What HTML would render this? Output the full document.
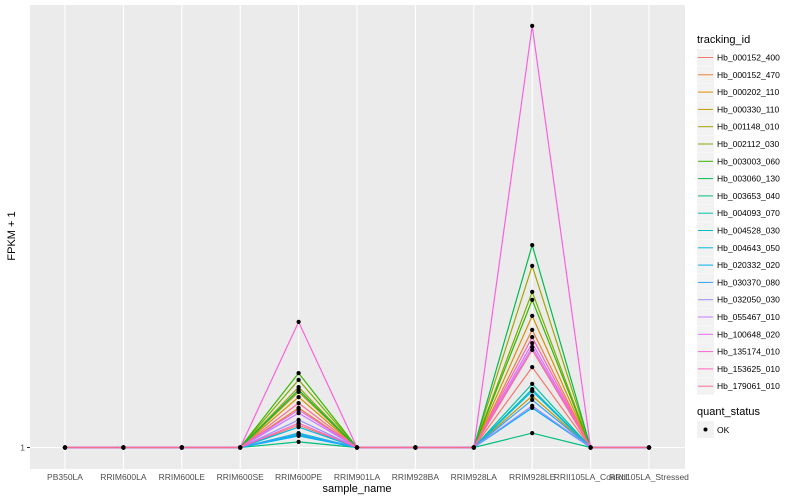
<!DOCTYPE html>
<html><head><meta charset="utf-8"><style>
body{margin:0;background:#fff;}
svg{display:block;font-family:"Liberation Sans",sans-serif;}
</style></head><body>
<svg id="chart" width="800" height="500">
<rect x="30" y="5" width="655" height="464" fill="#EBEBEB"/>
<g id="grid"></g><g id="lines"></g><g id="points"></g><g id="axes"></g><g id="legend"></g>
<text x="15" y="236" font-size="11" text-anchor="middle" transform="rotate(-90 15 236)">FPKM + 1</text>
<text x="357" y="492" font-size="11" text-anchor="middle">sample_name</text>
</svg>
<script>
const categories=["PB350LA","RRIM600LA","RRIM600LE","RRIM600SE","RRIM600PE","RRIM901LA","RRIM928BA","RRIM928LA","RRIM928LE","RRII105LA_Control","RRII105LA_Stressed"];
const seriesNames=["Hb_000152_400","Hb_000152_470","Hb_000202_110","Hb_000330_110","Hb_001148_010","Hb_002112_030","Hb_003003_060","Hb_003060_130","Hb_003653_040","Hb_004093_070","Hb_004528_030","Hb_004643_050","Hb_020332_020","Hb_030370_080","Hb_032050_030","Hb_055467_010","Hb_100648_020","Hb_135174_010","Hb_153625_010","Hb_179061_010"];
const colors=["#F8766D","#EA8331","#D89000","#C09B00","#A3A500","#7CAE00","#39B600","#00BB4E","#00BF7D","#00C1A3","#00BFC4","#00BAE0","#00B0F6","#35A2FF","#9590FF","#C77CFF","#E76BF3","#FA62DB","#FF62BC","#FF6C91"];
const peakPE=[6.6,10.9,13.6,14.9,16.1,17.9,19.6,15.4,2.4,4.1,4.6,6.1,3.9,4.4,7.9,9.6,10.4,32.4,7.1,12.1];
const peakLE=[21.1,30.4,33.9,13.9,46.4,39.9,37.9,51.6,4.6,16.9,15.6,15.1,10.9,12.9,11.4,26.1,27.1,106.4,28.6,25.4];
const yTicks=[1];
const NS="http://www.w3.org/2000/svg";
function xs(i){return 65+i*58.4;}
function ys(v){return 447.5-(v-1)*4;}
function mk(tag,attrs,parent){const e=document.createElementNS(NS,tag);for(const k in attrs)e.setAttribute(k,attrs[k]);parent.appendChild(e);return e;}
const grid=document.getElementById('grid'),lines=document.getElementById('lines'),pts=document.getElementById('points'),axes=document.getElementById('axes'),leg=document.getElementById('legend');
categories.forEach((c,i)=>{
 const g=mk('line',{x1:xs(i),x2:xs(i),y1:5,y2:469,stroke:'#fff','stroke-width':1.1},grid);
 
 
 const t=mk('text',{x:xs(i),y:480,'font-size':8.5,'text-anchor':'middle',fill:'#4D4D4D'},axes);
 t.textContent=c;
 
 
});
yTicks.forEach(v=>{
 const g=mk('line',{x1:30,x2:685,y1:ys(v),y2:ys(v),stroke:'#fff','stroke-width':1.1},grid);
 
 
 mk('line',{x1:27,x2:30,y1:ys(v),y2:ys(v),stroke:'#333'},axes);
 const t=mk('text',{x:25,y:ys(v)+3,'font-size':8.5,'text-anchor':'end',fill:'#4D4D4D'},axes);
 t.textContent=v;
 
 
});
seriesNames.forEach((n,s)=>{
 const vals=categories.map((c,i)=>i===4?peakPE[s]:(i===8?peakLE[s]:1));
 const p=mk('polyline',{points:vals.map((v,i)=>xs(i)+','+ys(v)).join(' '),fill:'none',stroke:colors[s],'stroke-width':1.2},lines);
 
 
 vals.forEach((v,i)=>{
  const r=mk('circle',{cx:xs(i),cy:ys(v),r:2.1,fill:'#000'},pts);
  
  
 });
 const ky=49+s*17.3;
 const kb=mk('rect',{x:697,y:ky,width:17,height:17,fill:'#F2F2F2'},leg);
 
 
 mk('line',{x1:698,x2:713,y1:ky+8.5,y2:ky+8.5,stroke:colors[s],'stroke-width':1},leg);
 const t=mk('text',{x:717,y:ky+11.5,'font-size':8.5,fill:'#000'},leg);
 t.textContent=n;
 
 
});
const lt=mk('text',{x:697,y:43,'font-size':11,fill:'#000'},leg);
lt.textContent='tracking_id';


const qt=mk('text',{x:697,y:415,'font-size':11,fill:'#000'},leg);
qt.textContent='quant_status';


const qk=mk('rect',{x:697,y:421,width:17,height:17,fill:'#F2F2F2'},leg);


mk('circle',{cx:705.5,cy:429.5,r:2,fill:'#000'},leg);
const ok=mk('text',{x:717,y:433,'font-size':8.5,fill:'#000'},leg);
ok.textContent='OK';


</script>
</body></html>
